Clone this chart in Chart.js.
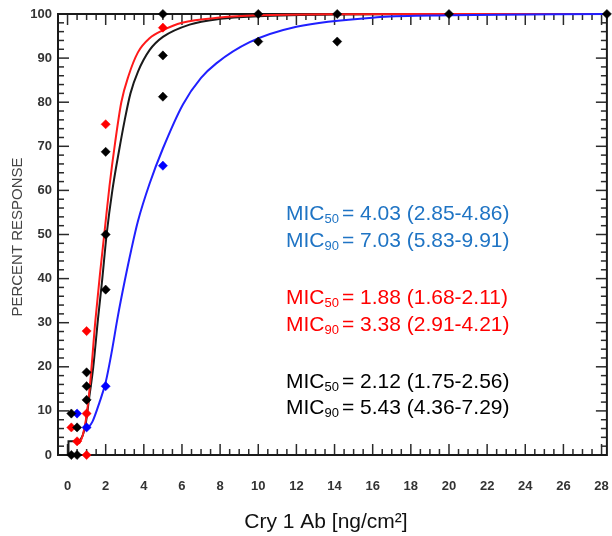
<!DOCTYPE html>
<html><head><meta charset="utf-8">
<script src="https://cdn.jsdelivr.net/npm/chart.js@4.4.0/dist/chart.umd.min.js"></script>
<style>html,body{margin:0;padding:0;background:#fff;}#wrap{width:612px;height:536px;}</style>
</head><body><div id="wrap"><canvas id="c" width="612" height="536"></canvas></div>
<script>
// ---- data ----
const xTickLabels = [0,2,4,6,8,10,12,14,16,18,20,22,24,26,28];
const yTickLabels = [0,10,20,30,40,50,60,70,80,90,100];
const xMinorStep = 0.5;
const yMinorStep = 2;

const blackX = [0.2,0.5,0.2,0.5,1,1,1,2,2,2,5,5,5,10,10,14.14,14.14,20,28.28];
const blackY = [0,0,9.4,6.25,12.5,15.6,18.75,37.5,50,68.75,81.25,90.6,100,93.75,100,93.75,100,100,100];
const redX = [0.2,0.5,1,1,1,2,5];
const redY = [6.25,3.1,0,9.4,28.1,75,96.9];
const blueX = [0.5,1,2,5];
const blueY = [9.4,6.25,15.6,65.6];

const blackCurveX = [0.6,0.8,0.95,1.12,1.35,1.6,1.8,2.05,2.35,2.7,3.0,3.3,3.7,4.3,5.0,6.4,8,10,14,20,28.28];
const blackCurveY = [3,4.5,7,12.5,20,31,39,50,60,69,76,82,87,91.8,94.8,97.6,98.9,99.5,99.9,100,100];
const blackStubX = [0.05,0.05,0.6];
const blackStubY = [0,3.1,3.1];
const redCurveX = [0.6,0.8,1.0,1.2,1.45,1.7,1.95,2.2,2.5,2.82,3.2,3.69,4.3,5,6,8,10,14,20,28.28];
const redCurveY = [2.5,4.5,9,17,30,41,51,61,71,80,86,91.3,94.5,96.3,98,99.2,99.7,99.95,100,100];
const blueCurveX = [0.9,1.1,1.3,1.68,2.0,2.3,2.64,3.0,3.34,3.69,4.3,5.0,6.05,7,7.8,9.55,12,16.4,20,28.28];
const blueCurveY = [5.8,6.3,7.5,12,16.5,23,31.5,39.5,46.5,53,61.5,69.5,79.5,85.5,88.8,93.6,97.1,99.3,99.7,100];

const micSub = ['50','90'];
const micBlue = ['4.03 (2.85-4.86)','7.03 (5.83-9.91)'];
const micRed = ['1.88 (1.68-2.11)','3.38 (2.91-4.21)'];
const micBlack = ['2.12 (1.75-2.56)','5.43 (4.36-7.29)'];
const xTitle = 'Cry 1 Ab [ng/cm²]';
const yTitle = 'PERCENT RESPONSE';

// ---- chart ----
const FAM = '"Liberation Sans", Arial, sans-serif';
const pts = (xs, ys) => xs.map((v, i) => ({x: v, y: ys[i]}));

const framePlugin = {
  id: 'frame',
  beforeDatasetsDraw(chart) {
    const {ctx, chartArea: a, scales: {x, y}} = chart;
    ctx.save();
    ctx.strokeStyle = '#2a2a2a';
    ctx.lineWidth = 1.5;
    const tick = (x1, y1, x2, y2) => { ctx.beginPath(); ctx.moveTo(x1, y1); ctx.lineTo(x2, y2); ctx.stroke(); };
    for (let v = xTickLabels[0]; v <= xTickLabels[xTickLabels.length - 1] + 1e-9; v += xMinorStep) {
      const major = xTickLabels.some(t => Math.abs(t - v) < 1e-6);
      const len = major ? 11 : 6;
      const px = x.getPixelForValue(v);
      tick(px, a.bottom, px, a.bottom - len);
      tick(px, a.top, px, a.top + len);
    }
    for (let v = yTickLabels[0]; v <= yTickLabels[yTickLabels.length - 1] + 1e-9; v += yMinorStep) {
      const major = yTickLabels.some(t => Math.abs(t - v) < 1e-6);
      const len = major ? 11 : 6;
      const py = y.getPixelForValue(v);
      tick(a.left, py, a.left + len, py);
      tick(a.right, py, a.right - len, py);
    }
    ctx.lineWidth = 2;
    ctx.strokeStyle = '#1a1a1a';
    ctx.strokeRect(a.left, a.top, a.right - a.left, a.bottom - a.top);
    ctx.restore();
  },
  afterDraw(chart) {
    const {ctx} = chart;
    ctx.save();
    const drawMic = (x0, yBase, color, sub, val) => {
      ctx.fillStyle = color;
      ctx.textBaseline = 'alphabetic';
      ctx.textAlign = 'left';
      ctx.font = '21px ' + FAM;
      ctx.fillText('MIC', x0, yBase);
      let x = x0 + ctx.measureText('MIC').width;
      ctx.font = '13px ' + FAM;
      ctx.fillText(sub, x, yBase + 3);
      x += ctx.measureText(sub).width + 3;
      ctx.font = '21px ' + FAM;
      ctx.fillText('= ' + val, x, yBase);
    };
    const groups = [
      {vals: micBlue, color: '#1f74c4', y: [220, 247]},
      {vals: micRed, color: '#ff0000', y: [304, 331]},
      {vals: micBlack, color: '#000000', y: [388, 414]}
    ];
    groups.forEach(g => g.vals.forEach((v, i) => drawMic(286, g.y[i], g.color, micSub[i], v)));
    ctx.fillStyle = '#111';
    ctx.font = '21px ' + FAM;
    ctx.textAlign = 'center';
    ctx.textBaseline = 'middle';
    ctx.fillText(xTitle, 326, 522);
    ctx.translate(18, 237);
    ctx.rotate(-Math.PI / 2);
    ctx.fillStyle = '#444';
    ctx.font = '15px ' + FAM;
    ctx.fillText(yTitle, 0, 0);
    ctx.restore();
  }
};

const pointDs = (xs, ys, c) => ({
  data: pts(xs, ys), pointStyle: 'rectRot', pointRadius: 4.6, pointBackgroundColor: c,
  pointBorderColor: c, pointBorderWidth: 0.5, showLine: false, order: 0, clip: false
});
const curveDs = (xs, ys, c, ord, smooth) => ({
  data: pts(xs, ys), showLine: true, pointRadius: 0, borderColor: c, borderWidth: 2,
  cubicInterpolationMode: smooth ? 'monotone' : 'default', tension: 0, fill: false, order: ord, clip: 3
});
const noPad = s => { s.paddingLeft = 0; s.paddingRight = 0; s.paddingTop = 0; s.paddingBottom = 0; };

new Chart(document.getElementById('c'), {
  type: 'scatter',
  data: {datasets: [
    pointDs(blackX, blackY, '#000000'),
    pointDs(redX, redY, '#ff0000'),
    pointDs(blueX, blueY, '#0000ff'),
    curveDs(blueCurveX, blueCurveY, '#2020ff', 1, true),
    curveDs(redCurveX, redCurveY, '#ff1a1a', 2, true),
    curveDs(blackCurveX, blackCurveY, '#1a1a1a', 3, true),
    curveDs(blackStubX, blackStubY, '#1a1a1a', 3, false)
  ]},
  options: {
    responsive: false, animation: false, events: [],
    plugins: {legend: {display: false}, tooltip: {enabled: false}},
    layout: {padding: {top: 14, right: 5, left: 0, bottom: 0}},
    scales: {
      x: {
        type: 'linear', min: -0.5, max: 28.28,
        grid: {display: false, drawTicks: false}, border: {display: false},
        afterBuildTicks: s => { s.ticks = xTickLabels.map(v => ({value: v})); },
        afterFit: s => { s.height = 81; noPad(s); },
        ticks: {font: {family: FAM, size: 13, weight: 'bold'}, color: '#333', padding: 24, maxRotation: 0, autoSkip: false}
      },
      y: {
        type: 'linear', min: 0, max: 100,
        grid: {display: false, drawTicks: false}, border: {display: false},
        afterBuildTicks: s => { s.ticks = yTickLabels.map(v => ({value: v})); },
        afterFit: s => { s.width = 58; noPad(s); },
        ticks: {font: {family: FAM, size: 13, weight: 'bold'}, color: '#333', padding: 6, autoSkip: false}
      }
    }
  },
  plugins: [framePlugin]
});
</script></body></html>
